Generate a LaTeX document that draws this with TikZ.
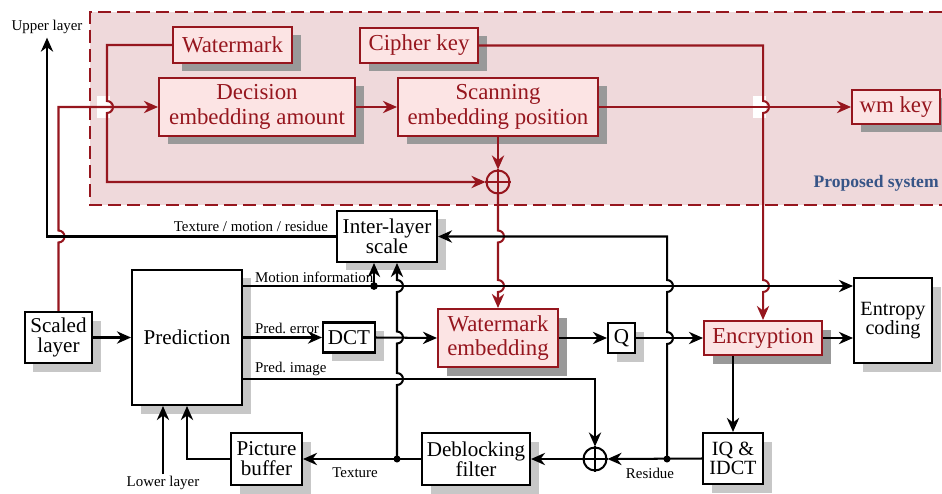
\documentclass[tikz,border=0pt]{standalone}
\usepackage{fontspec}
\setmainfont{Liberation Serif}
\usetikzlibrary{arrows.meta,shadows}

\definecolor{wmred}{RGB}{150,22,30}
\definecolor{zonefill}{RGB}{239,217,219}
\definecolor{wmfill}{RGB}{252,228,228}
\definecolor{zoneblue}{RGB}{55,85,135}

\newcommand\boxtextred{\fontsize{13}{14}\selectfont}
\newcommand\boxtextblk{\fontsize{12}{11.5}\selectfont}
\newcommand\wiretext{\fontsize{8.5}{10}\selectfont}
% vertical wire hopping over a horizontal one (bulge to the right)
\newcommand\jumpdown[1]{-- ([yshift=3.4pt]#1) arc[start angle=90,end angle=-90,radius=3.4pt]}
\newcommand\jumpup[1]{-- ([yshift=-3.4pt]#1) arc[start angle=-90,end angle=90,radius=3.4pt]}

\begin{document}
\begin{tikzpicture}[x=0.02cm, y=-0.02cm,
  sz/.style 2 args={minimum width=#1*0.02cm, minimum height=#2*0.02cm},
  blockbase/.style={rectangle, line width=1.15pt, align=center, inner sep=0pt},
  blk/.style={blockbase, draw=black, fill=white, font=\boxtextblk,
    drop shadow={shadow xshift=0.17cm, shadow yshift=-0.17cm, fill=black!22, opacity=1}},
  redblk/.style={blockbase, draw=wmred, fill=wmfill, text=wmred, font=\boxtextred,
    drop shadow={shadow xshift=0.17cm, shadow yshift=-0.17cm, fill=black!40, opacity=1}},
  wire/.style={draw=black, line width=1.15pt},
  rwire/.style={draw=wmred, line width=1.15pt},
  arr/.style={-{Stealth[length=8pt,width=7pt]}},
  lbl/.style={font=\wiretext, inner sep=1pt},
  sumnode/.style={circle, line width=1.15pt, inner sep=0pt, minimum size=23*0.02cm}]

\useasboundingbox (0,0) rectangle (942,493);

% proposed system zone
\fill[zonefill] (90,12) rectangle (942,205);
\draw[wmred, line width=1.5pt, dash pattern=on 7.5pt off 3.5pt]
  (942,12) -- (90,12) -- (90,205) -- (942,205);
\node[font=\fontsize{10}{12}\selectfont\bfseries, text=zoneblue, anchor=east, inner sep=0pt]
  (zonelbl) at (939,183) {Proposed system};

% blocks
\node[redblk, sz={119}{36}] (wmark) at (232.5,45) {Watermark};
\node[redblk, sz={118}{35}] (cipher) at (419,45.5) {Cipher key};
\node[redblk, sz={196}{58}] (decision) at (257,107) {Decision\\embedding amount};
\node[redblk, sz={200}{58}] (scanning) at (498,107) {Scanning\\embedding position};
\node[redblk, sz={88}{34}] (wmkey) at (896,107) {wm key};
\node[sumnode, draw=wmred, fill=zonefill] (sumR) at (498,182) {};

\node[blk, sz={100}{51}] (interl) at (387,236.5) {Inter-layer\\scale};
\node[blk, sz={110}{135}] (pred) at (187,337.5) {Prediction};
\node[blk, sz={67}{51}] (scaled) at (58.5,337.5) {Scaled\\layer};
\node[blk, sz={52}{30}] (dct) at (349,337.5) {DCT};
\node[redblk, sz={120}{58}] (wmemb) at (498,338) {Watermark\\embedding};
\node[blk, sz={27}{30}] (quant) at (621.5,338) {Q};
\node[redblk, sz={118}{34}] (enc) at (763,338) {Encryption};
\node[blk, sz={78}{85}, font=\fontsize{11.5}{10.5}\selectfont] (entropy) at (893,320.5) {Entropy\\coding};
\node[blk, sz={60}{51}, font=\fontsize{11.5}{11}\selectfont] (iq) at (733,458.5) {IQ \&\\IDCT};
\node[sumnode, draw=black, fill=white] (sumB) at (595,459) {};
\node[blk, sz={108}{52}] (deblock) at (476,459) {Deblocking\\filter};
\node[blk, sz={71}{52}] (picbuf) at (266.5,459) {Picture\\buffer};

% wire labels
\node[lbl, inner sep=2pt] (ul) at (47,27) {Upper layer};
\node[lbl] (ll) at (163,483) {Lower layer};
\node[lbl, anchor=south east] (ltex) at (330,234) {Texture / motion / residue};
\node[lbl, anchor=south west] (lmot) at (253,285) {Motion information};
\node[lbl, anchor=south west] (lerr) at (253,336) {Pred.\ error};
\node[lbl, anchor=south west] (limg) at (253,378) {Pred.\ image};
\node[lbl] (ltexture) at (355,473) {Texture};
\node[lbl] (lres) at (650,473) {Residue};

% crossing points and branch points
\coordinate (wcol) at (107,182);
\coordinate (cx1) at (wcol |- decision.west);
\coordinate (cx2) at (scaled.north |- interl.west);
\coordinate (cx3) at (enc.north |- scanning.east);
\coordinate (motA) at (pred.east |- 0,286);
\coordinate (cx4) at (enc.north |- motA);
\coordinate (cx5) at (sumR.south |- interl.east);
\coordinate (cx6) at (sumR.south |- motA);
\coordinate (motdot) at (374,286);
\coordinate (resdot) at (667,459);
\coordinate (cx7) at (resdot |- quant.east);
\coordinate (cx8) at (resdot |- motA);
\coordinate (pimg) at (pred.east |- 0,379);
\coordinate (texdot) at (397,459);
\coordinate (cx9) at (texdot |- pimg);
\coordinate (cx10) at (texdot |- dct.east);
\coordinate (cx11) at (texdot |- motA);

% white gaps behind the hops in the zone
\fill[white] ([shift={(-10,-11)}]cx1) rectangle ([shift={(3,11)}]cx1);
\fill[white] ([shift={(-10,-11)}]cx3) rectangle ([shift={(3,11)}]cx3);

% watermarking / encryption wires
\draw[rwire,arr] (scaled.north) \jumpup{cx2} -- (scaled.north |- decision.west) -- (decision.west);
\draw[rwire,arr] (wmark.west) -- (wcol |- wmark.west) \jumpdown{cx1} -- (wcol) -- (sumR.west);
\draw[rwire,arr] (decision.east) -- (scanning.west);
\draw[rwire,arr] (scanning.east) -- (wmkey.west);
\draw[rwire,arr] (cipher.east) -- (enc.north |- cipher.east) \jumpdown{cx3} \jumpdown{cx4} -- (enc.north);
\draw[rwire,arr] (scanning.south) -- (sumR.north);
\draw[rwire] (sumR.north) -- (sumR.south) (sumR.west) -- (sumR.east);
\draw[rwire,arr] (sumR.south) \jumpdown{cx5} \jumpdown{cx6} -- (wmemb.north);

% coding loop wires
\draw[wire,arr] (interl.west) -| (ul.south);
\draw[wire,arr] (motA) -- (entropy.west |- motA);
\draw[wire,arr] (motdot) -- (motdot |- interl.south);
\draw[wire,arr] (scaled.east) -- (pred.west);
\draw[wire,arr] (pred.east) -- (dct.west);
\draw[wire,arr] (dct.east) -- (wmemb.west);
\draw[wire,arr] (wmemb.east) -- (quant.west);
\draw[wire,arr] (quant.east) -- (enc.west);
\draw[wire,arr] (enc.east) -- (entropy.west |- enc.east);
\draw[wire,arr] (iq.north |- enc.south) -- (iq.north);
\draw[wire,arr] (iq.west) -- (sumB.east);
\draw[wire,arr] (resdot) \jumpup{cx7} \jumpup{cx8} -- (resdot |- interl.east) -- (interl.east);
\draw[wire,arr] (pimg) -- (sumB.north |- pimg) -- (sumB.north);
\draw[wire] (sumB.north) -- (sumB.south) (sumB.west) -- (sumB.east);
\draw[wire,arr] (sumB.west) -- (deblock.east);
\draw[wire,arr] (deblock.west) -- (picbuf.east);
\draw[wire,arr] (texdot) \jumpup{cx9} \jumpup{cx10} \jumpup{cx11} -- (texdot |- interl.south);
\draw[wire,arr] (picbuf.west) -| (pred.south);
\draw[wire,arr] (ll.north) -- (ll.north |- pred.south);
\fill (motdot) circle (2.2pt);
\fill (resdot) circle (2pt);
\fill (texdot) circle (2pt);
\end{tikzpicture}
\end{document}
